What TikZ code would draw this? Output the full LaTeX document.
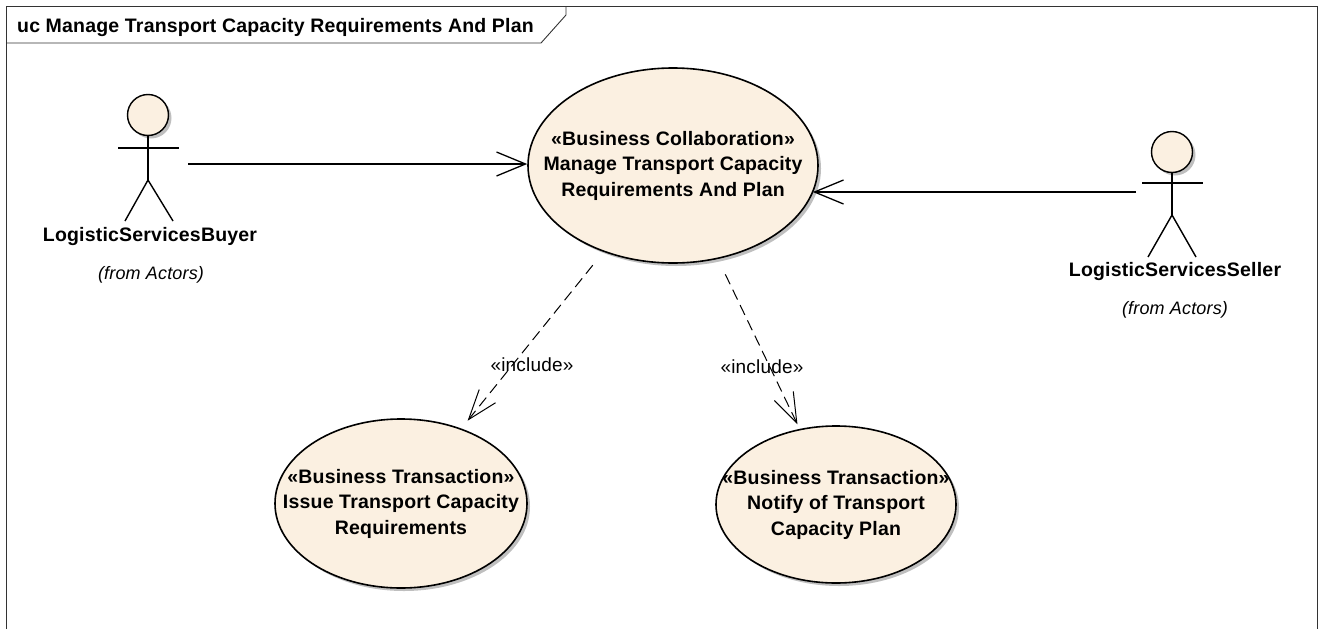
\documentclass[tikz,border=0pt]{standalone}
\usepackage{fontspec}
\setmainfont{Liberation Sans}[LetterSpace=1]
\usetikzlibrary{shapes.geometric,arrows.meta,shadows}
\definecolor{ucfill}{HTML}{FBF0E1}

\begin{document}
\begin{tikzpicture}[x=1pt, y=-1pt,
  frame/.style={line width=0.9pt, black!80},
  usecase/.style={ellipse, draw, line width=1.6pt, fill=ucfill, inner sep=-60pt, align=center,
    font=\fontsize{19.5}{25.5}\selectfont\bfseries,
    drop shadow={shadow xshift=3pt, shadow yshift=-3pt, fill=black!25, opacity=1}},
  head/.style={circle, draw, line width=1.4pt, fill=ucfill, minimum size=41pt, inner sep=0pt,
    drop shadow={shadow xshift=3pt, shadow yshift=-3pt, fill=black!25, opacity=1}},
  limb/.style={line width=1.4pt},
  actorname/.style={anchor=base, font=\fontsize{19.5}{22}\selectfont\bfseries},
  fromlbl/.style={anchor=base, font=\fontsize{18}{20}\selectfont\itshape},
  incllbl/.style={font=\fontsize{19}{22}\selectfont},
  assoc/.style={line width=1.3pt, -{Straight Barb[length=29pt, width=24pt]}},
  incl/.style={line width=1pt, dash pattern=on 11pt off 6pt, shorten <=17pt,
    -{Straight Barb[length=30pt, width=21pt]}}]
\useasboundingbox (0,0) rectangle (1319,629);

% frame and title tab
\draw[frame] (6,629) to (6,6) to (1317,6) to (1317,629);
\draw[frame] (6,43) to (541,43) to (566,15) to (566,6);
\node[anchor=base west, inner sep=0pt, font=\fontsize{19.5}{22}\selectfont\bfseries] (title) at (17,32)
  {uc Manage Transport Capacity Requirements And Plan};

% use cases
\node[usecase, minimum width=290pt, minimum height=195pt] (main) at (673,165.5)
  {«Business Collaboration»\\Manage Transport Capacity\\Requirements And Plan};
\node[usecase, minimum width=252pt, minimum height=169pt] (issue) at (401,503.5)
  {«Business Transaction»\\Issue Transport Capacity\\Requirements};
\node[usecase, minimum width=240pt, minimum height=157pt] (notify) at (836,504.5)
  {«Business Transaction»\\Notify of Transport\\Capacity Plan};

% actors
\node[head] (buyer head) at (148,115) {};
\draw[limb] (118,148) to (179,148);
\draw[limb] (buyer head.south) to (148,180);
\draw[limb] (125,221) to (148,180) to (173,221);
\node[actorname] (buyer) at (150,241) {LogisticServicesBuyer};
\node[fromlbl] (buyer from) at (151,279) {(from Actors)};

\node[head] (seller head) at (1172,152) {};
\draw[limb] (1142,183) to (1203,183);
\draw[limb] (seller head.south) to (1172,215);
\draw[limb] (1148,257) to (1172,215) to (1196,257);
\node[actorname] (seller) at (1175,276) {LogisticServicesSeller};
\node[fromlbl] (seller from) at (1175,314) {(from Actors)};

% associations
\coordinate (buyer end) at (188,164);
\coordinate (seller end) at (1136,192);
\draw[assoc] (buyer end) to (buyer end -| main.west);
\draw[assoc, shorten >=-6pt] (seller end) to (seller end -| main.east);

% includes
\draw[incl, shorten >=10pt] (main) to (issue);
\draw[incl, shorten >=5pt] (main) to (notify);
\node[incllbl] (incl issue) at (532,365) {«include»};
\node[incllbl] (incl notify) at (762,367) {«include»};
\end{tikzpicture}
\end{document}
